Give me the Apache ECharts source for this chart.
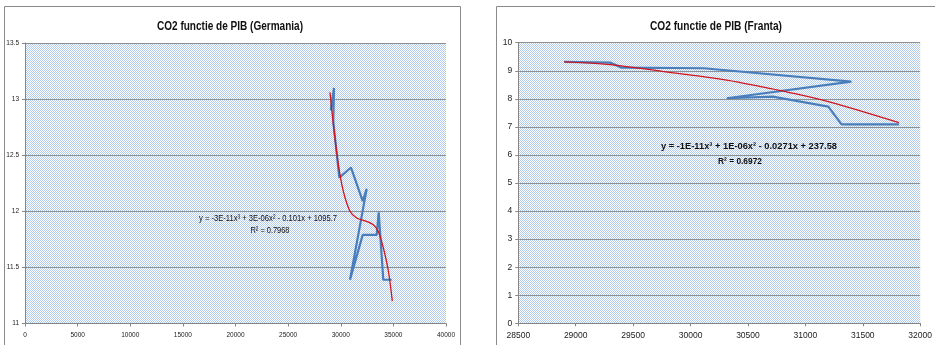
<!DOCTYPE html>
<html><head><meta charset="utf-8">
<script src="https://cdn.jsdelivr.net/npm/echarts@6/dist/echarts.min.js"></script>
<style>html,body{margin:0;padding:0;background:#fff}#c{width:935px;height:345px}</style>
</head><body><div id="c"></div>
<script>
// Germany: GDP per capita vs CO2 per capita (observed path)
const pibGermania = [29045, 29359, 29292, 29862, 30974, 32086, 32466, 30879, 32086, 33416, 33606, 34043, 34841];
const co2Germania = [12.90, 13.10, 12.80, 12.30, 12.39, 12.09, 12.20, 11.39, 11.79, 11.79, 11.99, 11.39, 11.39];
// Germany: polynomial trend curve
const trendPibGermania = [28979, 29292, 29767, 30242, 30879, 31516, 32466, 33093, 33568, 34043, 34518, 34898];
const trendCo2Germania = [13.06, 12.78, 12.42, 12.18, 12.00, 11.94, 11.91, 11.88, 11.82, 11.675, 11.47, 11.20];

// France: GDP per capita vs CO2 per capita (observed path)
const pibFranta = [28900, 29300, 29400, 30115, 31400, 30315, 30715, 31200, 31315, 31815];
const co2Franta = [9.32, 9.29, 9.11, 9.09, 8.61, 8.02, 8.08, 7.72, 7.09, 7.09];
// France: polynomial trend curve
const trendPibFranta = [28900, 29300, 29800, 30315, 30657, 30827, 31200, 31815];
const trendCo2Franta = [9.32, 9.22, 8.95, 8.67, 8.40, 8.26, 7.90, 7.15];

const titles = ['CO2 functie de PIB (Germania)', 'CO2 functie de PIB (Franta)'];
const eqGermania = ['y = -3E-11x³ + 3E-06x² - 0.101x + 1095.7', 'R² = 0.7968'];
const eqFranta = ['y = -1E-11x³ + 1E-06x² - 0.0271x + 237.58', 'R² = 0.6972'];

const zip = (xs, ys) => xs.map((x, i) => [x, ys[i]]);

// fine dotted fill for the plot areas
function dotPattern() {
  const c = document.createElement('canvas');
  c.width = 2; c.height = 2;
  const g = c.getContext('2d');
  g.fillStyle = '#ffffff'; g.fillRect(0, 0, 2, 2);
  g.fillStyle = '#b3cbec'; g.fillRect(0, 0, 1, 1); g.fillRect(1, 1, 1, 1);
  return c;
}
const pat = { image: dotPattern(), repeat: 'repeat' };

const FONT = "'Liberation Sans', Arial, sans-serif";
const axisGray = '#868686';
const gridGray = '#8f8f8f';

// condensed text: fit a string to a given pixel width
const measureCtx = document.createElement('canvas').getContext('2d');
function fitText(text, font, width, cx, cy, extra) {
  measureCtx.font = font;
  const w = measureCtx.measureText(text).width;
  return Object.assign({
    type: 'text', x: cx, y: cy, originX: 0, originY: 0, scaleX: width / w, z: 100, silent: true,
    style: { text, font, fill: '#111', align: 'center', verticalAlign: 'middle' }
  }, extra || {});
}

const plain = v => String(v);

function xAxisCfg(gi, min, max, interval, fs, margin) {
  return {
    type: 'value', gridIndex: gi, min, max, interval,
    axisLine: { show: true, lineStyle: { color: axisGray, width: 1 } },
    axisTick: { show: true, length: 3, lineStyle: { color: axisGray } },
    axisLabel: { fontSize: fs, color: '#222', margin, fontFamily: FONT, formatter: plain },
    splitLine: { show: false }
  };
}
function yAxisCfg(gi, min, max, interval, fs) {
  return {
    type: 'value', gridIndex: gi, min, max, interval,
    axisLine: { show: true, lineStyle: { color: axisGray, width: 1 } },
    axisTick: { show: true, length: 3, lineStyle: { color: axisGray } },
    axisLabel: { fontSize: fs, color: '#222', margin: 6, fontFamily: FONT, formatter: plain },
    splitLine: { show: true, lineStyle: { color: gridGray, width: 1 } }
  };
}

const chart = echarts.init(document.getElementById('c'), null, { renderer: 'canvas' });
chart.setOption({
  animation: false,
  backgroundColor: '#fff',
  grid: [
    { left: 25, top: 43, width: 421, height: 280.5, show: true, backgroundColor: pat, borderWidth: 0 },
    { left: 518.3, top: 42.7, width: 408.4, height: 280.6, show: true, backgroundColor: pat, borderWidth: 0 }
  ],
  xAxis: [
    xAxisCfg(0, 0, 40000, 5000, 6.5, 8),
    xAxisCfg(1, 28500, 32000, 500, 8.5, 8)
  ],
  yAxis: [
    yAxisCfg(0, 11, 13.5, 0.5, 6.5),
    yAxisCfg(1, 0, 10, 1, 8.5)
  ],
  series: [
    { type: 'line', xAxisIndex: 0, yAxisIndex: 0, data: zip(pibGermania, co2Germania),
      showSymbol: false, lineStyle: { color: '#4a7ebb', width: 2.2 } },
    { type: 'line', xAxisIndex: 0, yAxisIndex: 0, data: zip(trendPibGermania, trendCo2Germania),
      showSymbol: false, smooth: 0.35, lineStyle: { color: '#d0141c', width: 1.3 } },
    { type: 'line', xAxisIndex: 1, yAxisIndex: 1, data: zip(pibFranta, co2Franta),
      showSymbol: false, lineStyle: { color: '#4a7ebb', width: 2.2 } },
    { type: 'line', xAxisIndex: 1, yAxisIndex: 1, data: zip(trendPibFranta, trendCo2Franta),
      showSymbol: false, smooth: 0.35, lineStyle: { color: '#d0141c', width: 1.3 } }
  ],
  graphic: [
    { type: 'rect', shape: { x: 4.5, y: 6.5, width: 456, height: 345 }, silent: true,
      style: { fill: null, stroke: '#8a8a8a', lineWidth: 1 }, z: -1 },
    { type: 'rect', shape: { x: 496.5, y: 6.5, width: 460, height: 345 }, silent: true,
      style: { fill: null, stroke: '#8a8a8a', lineWidth: 1 }, z: -1 },
    fitText(titles[0], 'bold 12.5px ' + FONT, 146, 230, 27),
    fitText(titles[1], 'bold 12.5px ' + FONT, 132, 716, 27),
    fitText(eqGermania[0], '9px ' + FONT, 138, 268, 219),
    fitText(eqGermania[1], '9px ' + FONT, 39, 270, 231),
    fitText(eqFranta[0], 'bold 9px ' + FONT, 176, 749, 147),
    fitText(eqFranta[1], 'bold 9px ' + FONT, 44, 740, 162)
  ]
});
</script></body></html>
